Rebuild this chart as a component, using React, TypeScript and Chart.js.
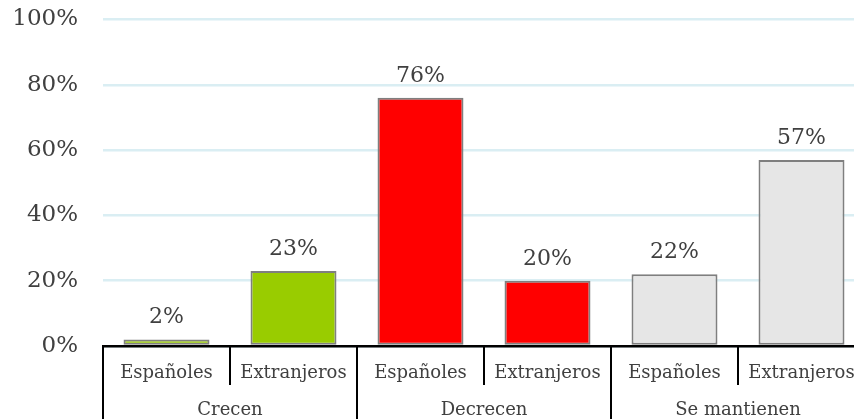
import React, { useEffect, useRef } from "react";
import { Chart, registerables } from "chart.js";

Chart.register(...registerables);

const subLabels = ["Españoles", "Extranjeros", "Españoles", "Extranjeros", "Españoles", "Extranjeros"];
const groupLabels = ["Crecen", "Decrecen", "Se mantienen"];
const values = [2, 23, 76, 20, 22, 57];
const barColors = ["#99CC00", "#99CC00", "#FF0000", "#FF0000", "#E6E6E6", "#E6E6E6"];
const yTicks = [0, 20, 40, 60, 80, 100];

const FONT = "'DejaVu Serif', 'Liberation Serif', serif";
const TEXT = "#404040";

const dataLabels = {
  id: "dataLabels",
  afterDatasetsDraw(chart: any) {
    const ctx = chart.ctx;
    const meta = chart.getDatasetMeta(0);
    ctx.save();
    ctx.font = `22px ${FONT}`;
    ctx.fillStyle = TEXT;
    ctx.textAlign = "center";
    ctx.textBaseline = "alphabetic";
    meta.data.forEach((el: any, i: number) => {
      ctx.fillText(values[i] + "%", el.x, el.y - 16);
    });
    ctx.restore();
  },
};

const multiAxis = {
  id: "multiAxis",
  afterDraw(chart: any) {
    const ctx = chart.ctx;
    const xs = chart.scales.x;
    const bottom = chart.chartArea.bottom;
    const w = xs.getPixelForValue(1) - xs.getPixelForValue(0);
    const left = xs.getPixelForValue(0) - w / 2;
    ctx.save();
    ctx.strokeStyle = "#000000";
    ctx.lineWidth = 2;
    for (let i = 0; i <= subLabels.length; i++) {
      const x = Math.round(left + i * w);
      ctx.beginPath();
      ctx.moveTo(x, bottom);
      ctx.lineTo(x, i % 2 === 0 ? chart.height : bottom + 39);
      ctx.stroke();
    }
    ctx.font = `18px ${FONT}`;
    ctx.fillStyle = TEXT;
    ctx.textAlign = "center";
    ctx.textBaseline = "alphabetic";
    subLabels.forEach((s, i) => {
      ctx.fillText(s, xs.getPixelForValue(i), bottom + 32);
    });
    groupLabels.forEach((g, gi) => {
      const cx = left + (gi * 2 + 1) * w;
      ctx.fillText(g, cx, bottom + 69);
    });
    ctx.restore();
  },
};

export default function App() {
  const ref = useRef<HTMLCanvasElement | null>(null);
  useEffect(() => {
    if (!ref.current) return;
    const chart = new Chart(ref.current, {
      type: "bar",
      data: {
        labels: subLabels,
        datasets: [
          {
            data: values,
            backgroundColor: barColors,
            borderColor: "#7F7F7F",
            borderWidth: 2,
            borderSkipped: false,
            barPercentage: 0.677,
            categoryPercentage: 1,
          },
        ],
      },
      options: {
        responsive: false,
        animation: false,
        layout: { padding: { top: 19.5, right: 15, left: 0, bottom: 0 } },
        plugins: { legend: { display: false }, tooltip: { enabled: false }, title: { display: false } },
        scales: {
          x: {
            ticks: { display: false },
            grid: { display: false },
            border: { display: true, color: "#000000", width: 2.5 },
            afterFit(scale: any) {
              scale.height = 73;
              scale.paddingLeft = 0;
              scale.paddingRight = 0;
            },
          },
          y: {
            min: 0,
            max: 100,
            afterBuildTicks(scale: any) {
              scale.ticks = yTicks.map((v) => ({ value: v }));
            },
            ticks: {
              callback: (v: any) => v + "%",
              font: { family: FONT, size: 23 },
              color: TEXT,
              padding: 25,
            },
            grid: { color: "#DAEEF3", lineWidth: 2.5, drawTicks: false },
            border: { display: false },
            afterFit(scale: any) {
              scale.width = 103;
              scale.paddingTop = 0;
              scale.paddingBottom = 0;
            },
          },
        },
      },
      plugins: [dataLabels, multiAxis],
    });
    return () => chart.destroy();
  }, []);
  return (
    <div style={{ position: "fixed", left: 0, top: 0, width: 854, height: 419, overflow: "hidden", background: "#fff" }}>
      <canvas ref={ref} width={880} height={419} style={{ display: "block" }} />
    </div>
  );
}
